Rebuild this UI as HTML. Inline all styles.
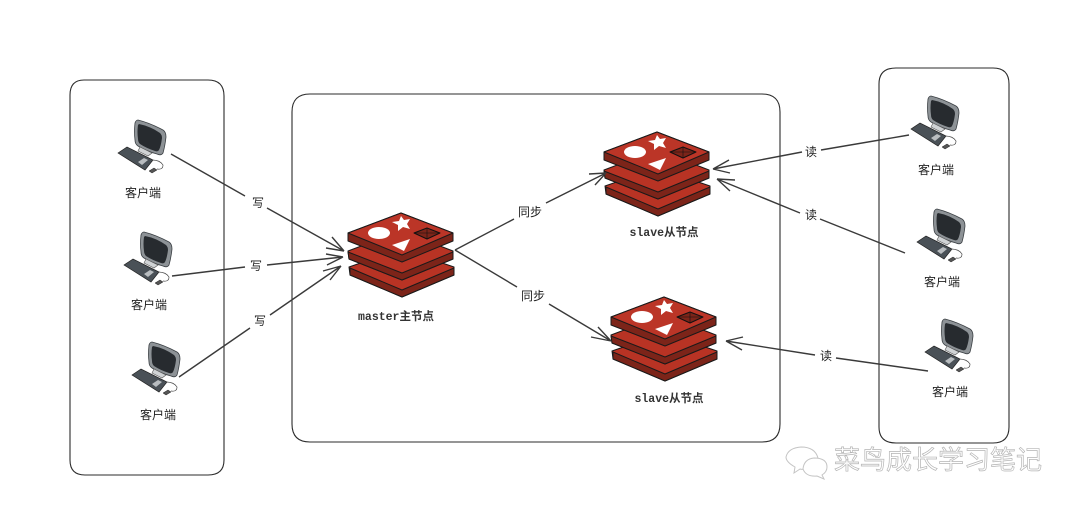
<!DOCTYPE html>
<html><head><meta charset="utf-8"><style>
html,body{margin:0;padding:0;background:#fff}
svg{display:block}
text{font-family:"Liberation Sans","Noto Sans CJK SC",sans-serif;fill:#222;text-anchor:middle}
.l{font-size:12px}
.n{font-family:"Liberation Mono","Noto Sans CJK SC",monospace;font-size:11.5px;font-weight:bold;fill:#333}
.e{fill:none;stroke:#3a3a3a;stroke-width:1.4}
.b{fill:none;stroke:#2b2b2b;stroke-width:1.1}
</style></head><body>
<svg width="1080" height="508" viewBox="0 0 1080 508" xmlns="http://www.w3.org/2000/svg">
<defs>
<g id="redis" stroke="#1a1a1a" stroke-width="1" stroke-linejoin="round">
<path d="M-52 54 L0 36 L53 54 L53 62 L1 84 L-51 62Z" fill="#b83324"/>
<path d="M-51 55 L1 77 L53 55 L53 62 L1 84 L-51 62Z" fill="#7c2419"/>
<path d="M-53 38 L0 18 L52 38 L52 46 L1 67 L-52 46Z" fill="#b83324"/>
<path d="M-53 39 L1 60 L52 39 L52 46 L1 67 L-52 46Z" fill="#7c2419"/>
<path d="M-53 20 L0 0 L52 20 L52 28 L1 49 L-53 28Z" fill="#7c2419"/>
<path d="M-53 20 L0 0 L52 20 L1 42Z" fill="#bb3527"/>
<ellipse cx="-22" cy="20" rx="11" ry="6" fill="#fff" stroke="none"/>
<path d="M-1 2 L2 6 L8 5 L5 10 L8 15 L1 13 L-4 17 L-4 11 L-10 8 L-3 7Z" transform="translate(1,1)" fill="#fff" stroke="none"/>
<path d="M-9 32 L9 26 L3 38Z" fill="#fff" stroke="none"/>
<path d="M13 20 L26 15 L39 20 L26 26Z" fill="#7c2419" stroke="#111"/>
<path d="M26 15 L26 26 M13 20 L39 20" fill="none" stroke="#111" stroke-width=".6"/>
</g>
<g id="pc">
<path d="M38 20 Q50 23 63 30 Q66 32 66 37 Q65 46 63 53 Q61 56 57 54 Q46 51 38 46 Q35 44 35 40 Q34 32 35 23 Q36 20 38 20Z" fill="#8d9296" stroke="#3a3f43" stroke-width=".8"/>
<path d="M39 24 Q50 26 60 33 Q62 35 62 38 Q61 46 59 50 Q58 52 55 51 Q46 48 40 44 Q38 42 38 39 Q37 32 38 25Z" fill="#272b2f"/>
<path d="M40 47 L38 51 L48 56 L52 53Z" fill="#d0d3d5" stroke="#555" stroke-width=".6"/>
<path d="M18 53 L27 47 L53 60 L45 70Z" fill="#4a5157" stroke="#222" stroke-width=".7"/>
<path d="M38 62 L44 58 L48 60 L42 65Z" fill="#b9bdc0"/>
<path d="M52 60 Q60 60 63 65 Q63 70 57 69" fill="none" stroke="#444" stroke-width=".7"/>
<path d="M49 71 L54 68 L57 70 L52 73Z" fill="#555" stroke="#222" stroke-width=".5"/>
</g>
</defs>
<rect width="1080" height="508" fill="#fff"/>

<path class="b" d="M84 80 H208 Q224 80 224 96 V460 Q224 475 208 475 H85 Q70 475 70 460 V95 Q70 80 84 80Z"/>
<path class="b" d="M310 94 H762 Q780 94 780 112 V424 Q780 442 762 442 H310 Q292 442 292 424 V112 Q292 94 310 94Z"/>
<path class="b" d="M896 68 H993 Q1009 68 1009 84 V427 Q1009 443 993 443 H896 Q879 443 879 427 V84 Q879 68 896 68Z"/>

<use href="#pc" x="100" y="100"/>
<use href="#pc" x="106" y="212"/>
<use href="#pc" x="114" y="322"/>
<use href="#pc" x="893" y="76"/>
<use href="#pc" x="899" y="189"/>
<use href="#pc" x="907" y="299"/>
<text class="l" x="143" y="197">客户端</text>
<text class="l" x="149" y="309">客户端</text>
<text class="l" x="158" y="419">客户端</text>
<text class="l" x="936" y="174">客户端</text>
<text class="l" x="942" y="286">客户端</text>
<text class="l" x="950" y="396">客户端</text>

<use href="#redis" x="401" y="213"/>
<use href="#redis" x="657" y="132"/>
<use href="#redis" x="664" y="297"/>
<text class="n" x="396" y="320">master主节点</text>
<text class="n" x="664" y="236">slave从节点</text>
<text class="n" x="669" y="402">slave从节点</text>

<path class="e" d="M171 154 L245 196 M267 208 L344 251 M332 237 L344 251 M326 248 L344 251"/>
<path class="e" d="M172 276 L245 267 M267 265 L343 257 M326 254 L343 257 M327 265 L343 257"/>
<path class="e" d="M179 377 L250 328 M270 315 L341 266 M323 271 L341 266 M330 280 L341 266"/>
<path class="e" d="M455 250 L514 219 M546 203 L606 173 M589 174 L606 173 M595 185 L606 173"/>
<path class="e" d="M455 250 L517 287 M549 304 L611 341 M598 327 L611 341 M591 337 L611 341"/>
<path class="e" d="M909 135 L821 150 M802 152 L713 169 M729 160 L713 169 M730 173 L713 169"/>
<path class="e" d="M905 253 L820 219 M800 213 L717 179 M735 180 L717 179 M730 191 L717 179"/>
<path class="e" d="M928 371 L836 358 M815 355 L726 341 M743 337 L726 341 M742 350 L726 341"/>

<text class="l" x="258" y="207">写</text>
<text class="l" x="256" y="270">写</text>
<text class="l" x="260" y="325">写</text>
<text class="l" x="530" y="216">同步</text>
<text class="l" x="533" y="300">同步</text>
<text class="l" x="811" y="156">读</text>
<text class="l" x="811" y="219">读</text>
<text class="l" x="826" y="360">读</text>

<g fill="#fff" stroke="#c4c4c4" stroke-width="1">
<path d="M801 447 Q815 447 818 458 Q808 460 806 468 Q803 470 800 469 L794 473 L795 467 Q786 462 786 457 Q788 448 801 447Z"/>
<path d="M814 458 Q827 458 827 467 Q827 472 822 475 L824 479 L817 476 Q806 477 803 469 Q804 459 814 458Z"/>
</g>
<text x="938" y="469" font-size="26" style="fill:#fff;stroke:#b5b5b5;stroke-width:.7">菜鸟成长学习笔记</text>
</svg>
</body></html>
